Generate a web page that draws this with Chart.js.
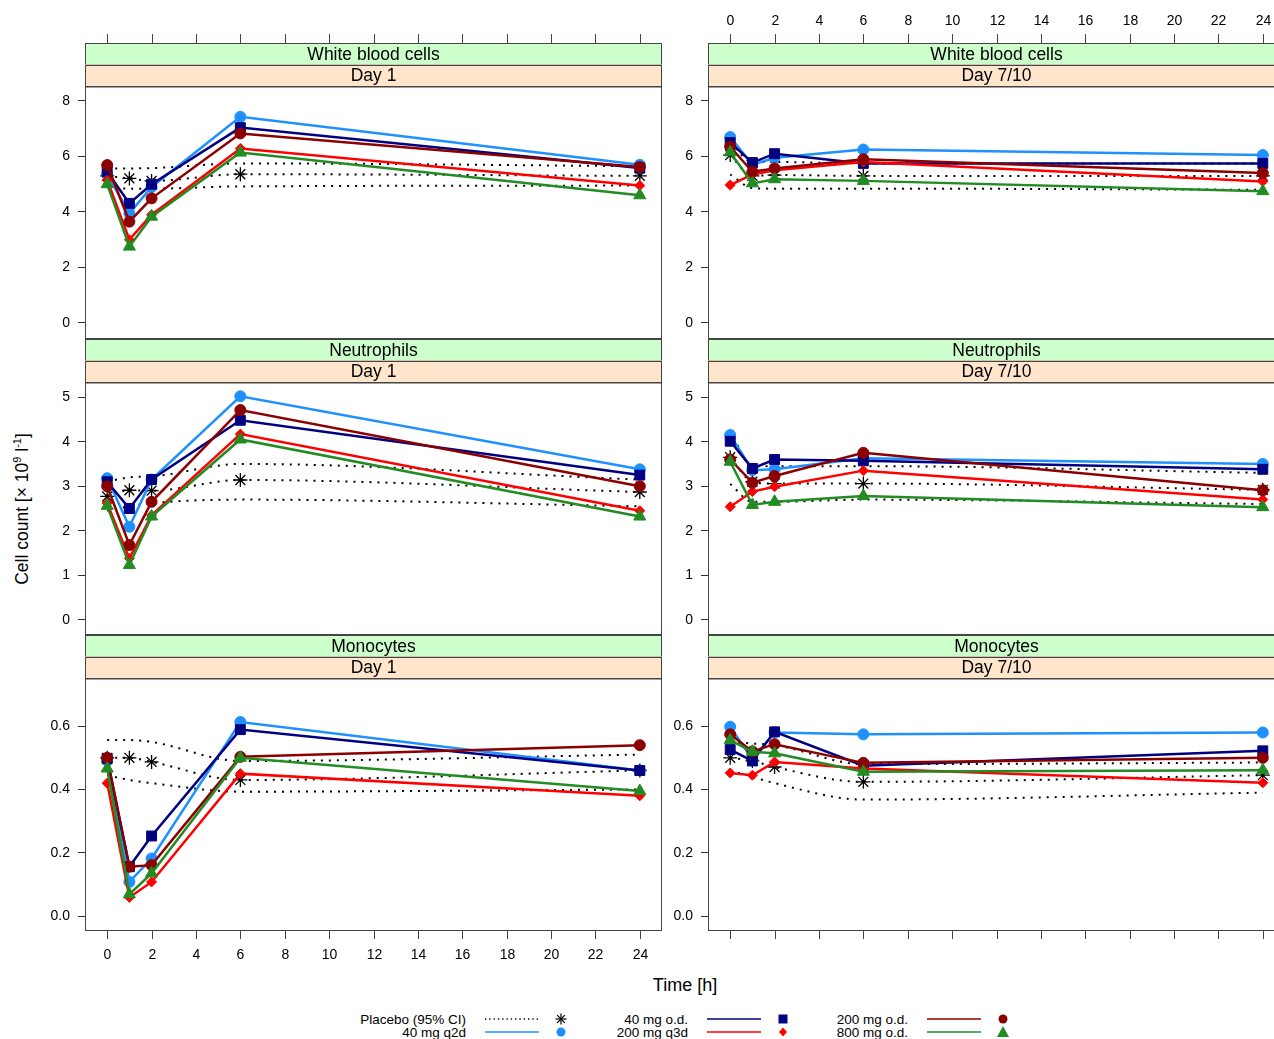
<!DOCTYPE html>
<html>
<head>
<meta charset="utf-8">
<script src="https://cdn.jsdelivr.net/npm/chart.js"></script>
<style>
  body { margin: 0; background: #fff; }
  #wrap { position: relative; width: 1274px; height: 1039px; overflow: hidden; font-family: "Liberation Sans", Arial, sans-serif; }
  #wrap canvas { position: absolute; }
  #ytitle { position: absolute; left: 22px; top: 509px; transform: translate(-50%, -50%) rotate(-90deg); font-size: 17.5px; white-space: nowrap; }
  #ytitle sup { font-size: 11px; }
  #xtitle { position: absolute; left: 685px; top: 985px; transform: translate(-50%, -50%); font-size: 18px; }
  #legend { position: absolute; left: 0; top: 1005px; }
</style>
</head>
<body>
<div id="wrap">
  <div id="ytitle">Cell count [× 10<sup>9</sup> l<sup>-1</sup>]</div>
  <div id="xtitle">Time [h]</div>
  <svg id="legend" width="1274" height="34"></svg>
</div>

<script>
// time points (h) and axis ticks
const times = [0, 1, 2, 6, 24];
const xTicks = [0, 2, 4, 6, 8, 10, 12, 14, 16, 18, 20, 22, 24];
const wbcTicks = [0, 2, 4, 6, 8];
const neutTicks = [0, 1, 2, 3, 4, 5];
const monoTicks = [0, 0.2, 0.4, 0.6];

const cellTypes = ['White blood cells', 'Neutrophils', 'Monocytes'];
const days = ['Day 1', 'Day 7/10'];
const groups = ['Placebo (95% CI)', '40 mg q2d', '40 mg o.d.', '200 mg q3d', '200 mg o.d.', '800 mg o.d.'];

// White blood cells, day 1
const wbcD1Mean  = [5.30, 5.21, 5.12, 5.36, 5.30];
const wbcD1Lower = [4.88, 4.84, 4.84, 4.92, 4.95];
const wbcD1Upper = [5.57, 5.57, 5.58, 5.75, 5.65];
const wbcD1Q2d40  = [5.35, 3.95, 4.90, 7.43, 5.70];
const wbcD1Od40   = [5.45, 4.31, 5.00, 7.04, 5.58];
const wbcD1Q3d200 = [5.15, 3.00, 3.90, 6.29, 4.95];
const wbcD1Od200  = [5.69, 3.65, 4.49, 6.83, 5.62];
const wbcD1Od800  = [5.00, 2.75, 3.83, 6.14, 4.60];

// White blood cells, day 7/10
const wbcD7Mean  = [6.05, 5.30, 5.33, 5.30, 5.30];
const wbcD7Lower = [5.35, 4.86, 4.84, 4.84, 4.80];
const wbcD7Upper = [6.50, 5.80, 5.80, 5.75, 5.75];
const wbcD7Q2d40  = [6.70, 5.70, 5.95, 6.25, 6.05];
const wbcD7Od40   = [6.50, 5.78, 6.10, 5.75, 5.75];
const wbcD7Q3d200 = [4.97, 5.35, 5.50, 5.80, 5.10];
const wbcD7Od200  = [6.35, 5.45, 5.57, 5.90, 5.40];
const wbcD7Od800  = [6.15, 5.03, 5.18, 5.12, 4.75];

// Neutrophils, day 1
const neutD1Mean  = [2.77, 2.91, 2.90, 3.14, 2.87];
const neutD1Lower = [2.45, 2.55, 2.62, 2.70, 2.55];
const neutD1Upper = [3.10, 3.20, 3.22, 3.50, 3.15];
const neutD1Q2d40  = [3.18, 2.09, 3.15, 5.02, 3.38];
const neutD1Od40   = [3.10, 2.50, 3.15, 4.48, 3.25];
const neutD1Q3d200 = [2.62, 1.38, 2.35, 4.17, 2.45];
const neutD1Od200  = [3.00, 1.68, 2.65, 4.71, 3.00];
const neutD1Od800  = [2.56, 1.23, 2.32, 4.05, 2.32];

// Neutrophils, day 7/10
const neutD7Mean  = [3.65, 3.10, 3.06, 3.06, 2.92];
const neutD7Lower = [3.05, 2.65, 2.65, 2.70, 2.60];
const neutD7Upper = [4.25, 3.45, 3.45, 3.45, 3.30];
const neutD7Q2d40  = [4.15, 3.36, 3.38, 3.63, 3.50];
const neutD7Od40   = [4.01, 3.40, 3.60, 3.57, 3.38];
const neutD7Q3d200 = [2.54, 2.88, 2.99, 3.35, 2.70];
const neutD7Od200  = [3.60, 3.08, 3.23, 3.75, 2.91];
const neutD7Od800  = [3.55, 2.58, 2.65, 2.78, 2.53];

// Monocytes, day 1
const monoD1Mean  = [0.500, 0.500, 0.487, 0.430, 0.460];
const monoD1Lower = [0.445, 0.430, 0.420, 0.393, 0.400];
const monoD1Upper = [0.556, 0.556, 0.550, 0.490, 0.510];
const monoD1Q2d40  = [0.490, 0.108, 0.182, 0.613, 0.460];
const monoD1Od40   = [0.498, 0.156, 0.253, 0.589, 0.460];
const monoD1Q3d200 = [0.420, 0.059, 0.108, 0.450, 0.380];
const monoD1Od200  = [0.500, 0.156, 0.161, 0.503, 0.540];
const monoD1Od800  = [0.466, 0.069, 0.135, 0.500, 0.395];

// Monocytes, day 7/10
const monoD7Mean  = [0.500, 0.490, 0.471, 0.424, 0.445];
const monoD7Lower = [0.460, 0.440, 0.420, 0.368, 0.390];
const monoD7Upper = [0.550, 0.545, 0.540, 0.480, 0.485];
const monoD7Q2d40  = [0.598, 0.495, 0.580, 0.574, 0.580];
const monoD7Od40   = [0.526, 0.490, 0.582, 0.475, 0.522];
const monoD7Q3d200 = [0.452, 0.445, 0.487, 0.466, 0.421];
const monoD7Od200  = [0.574, 0.520, 0.543, 0.484, 0.500];
const monoD7Od800  = [0.556, 0.519, 0.514, 0.456, 0.461];

// look of each group
const styles = [
  { color: '#000000', point: 'star',     r: 7 },
  { color: '#1E90FF', point: 'circle',   r: 5.5 },
  { color: '#000080', point: 'rect',     r: 7 },
  { color: '#FF0000', point: 'rectRot',  r: 5 },
  { color: '#8B0000', point: 'circle',   r: 5.5 },
  { color: '#228B22', point: 'triangle', r: 7 }
];
const drawOrder = [7, 5, 4, 3, 2, 1];

const FONT = '"Liberation Sans", Arial, sans-serif';
Chart.defaults.font.family = FONT;

// panel layout
const colLeft = [85, 708];
const rowPlotTop = [86, 382, 678];
const plotW = 577, plotH = 253;

const panels = [
  { row: 0, col: 0, ticks: wbcTicks, y: [-0.58, 8.54], ci: [wbcD1Lower, wbcD1Upper],
    series: [wbcD1Mean, wbcD1Q2d40, wbcD1Od40, wbcD1Q3d200, wbcD1Od200, wbcD1Od800] },
  { row: 0, col: 1, ticks: wbcTicks, y: [-0.58, 8.54], ci: [wbcD7Lower, wbcD7Upper],
    series: [wbcD7Mean, wbcD7Q2d40, wbcD7Od40, wbcD7Q3d200, wbcD7Od200, wbcD7Od800] },
  { row: 1, col: 0, ticks: neutTicks, y: [-0.34, 5.34], ci: [neutD1Lower, neutD1Upper],
    series: [neutD1Mean, neutD1Q2d40, neutD1Od40, neutD1Q3d200, neutD1Od200, neutD1Od800] },
  { row: 1, col: 1, ticks: neutTicks, y: [-0.34, 5.34], ci: [neutD7Lower, neutD7Upper],
    series: [neutD7Mean, neutD7Q2d40, neutD7Od40, neutD7Q3d200, neutD7Od200, neutD7Od800] },
  { row: 2, col: 0, ticks: monoTicks, y: [-0.047, 0.752], ci: [monoD1Lower, monoD1Upper], dec: 1,
    series: [monoD1Mean, monoD1Q2d40, monoD1Od40, monoD1Q3d200, monoD1Od200, monoD1Od800] },
  { row: 2, col: 1, ticks: monoTicks, y: [-0.047, 0.752], ci: [monoD7Lower, monoD7Upper], dec: 1,
    series: [monoD7Mean, monoD7Q2d40, monoD7Od40, monoD7Q3d200, monoD7Od200, monoD7Od800] }
];

// strips, frame and the x ticks outside the strips
const latticePlugin = {
  id: 'lattice',
  afterDraw(chart, args, o) {
    const ctx = chart.ctx, a = chart.chartArea, x = chart.scales.x;
    const sh = 21.5;
    ctx.save();
    ctx.lineWidth = 1;
    ctx.strokeStyle = '#444';
    [[o.strip1, '#ccffcc', a.top - 2 * sh], [o.strip2, '#ffe5cc', a.top - sh]].forEach(function (s) {
      ctx.fillStyle = s[1];
      ctx.fillRect(a.left, s[2], a.right - a.left, sh);
      ctx.strokeRect(a.left + 0.5, Math.round(s[2]) + 0.5, a.right - a.left - 1, sh);
      ctx.fillStyle = '#000';
      ctx.font = '17.5px ' + FONT;
      ctx.textAlign = 'center';
      ctx.textBaseline = 'middle';
      ctx.fillText(s[0], (a.left + a.right) / 2, s[2] + sh / 2 + 1);
    });
    ctx.strokeRect(a.left + 0.5, a.top + 0.5, a.right - a.left - 1, a.bottom - a.top - 1);

    ctx.font = '14px ' + FONT;
    ctx.textAlign = 'center';
    ctx.textBaseline = 'middle';
    ctx.fillStyle = '#000';
    xTicks.forEach(function (t) {
      const px = Math.round(x.getPixelForValue(t)) + 0.5;
      if (o.top) {
        const y0 = a.top - 2 * sh;
        ctx.beginPath(); ctx.moveTo(px, y0); ctx.lineTo(px, y0 - 9); ctx.stroke();
        if (o.topLabels) ctx.fillText(String(t), px, y0 - 22);
      }
      if (o.bottom) {
        ctx.beginPath(); ctx.moveTo(px, a.bottom); ctx.lineTo(px, a.bottom + 8); ctx.stroke();
        if (o.bottomLabels) ctx.fillText(String(t), px, a.bottom + 24);
      }
    });
    ctx.restore();
  }
};

const wrap = document.getElementById('wrap');

panels.forEach(function (p) {
  const cv = document.createElement('canvas');
  const left = colLeft[p.col] - 60, top = rowPlotTop[p.row] - 88;
  cv.width = 60 + plotW;
  cv.height = 88 + plotH + 45;
  cv.style.left = left + 'px';
  cv.style.top = top + 'px';
  wrap.appendChild(cv);

  const datasets = [];
  p.ci.forEach(function (arr) {
    datasets.push({
      data: arr.map(function (v, i) { return { x: times[i], y: v }; }),
      borderColor: '#000', borderWidth: 2, borderDash: [2, 6],
      cubicInterpolationMode: 'monotone', pointRadius: 0, fill: false, order: 8
    });
  });
  p.series.forEach(function (arr, g) {
    const s = styles[g];
    datasets.push({
      label: groups[g],
      data: arr.map(function (v, i) { return { x: times[i], y: v }; }),
      borderColor: s.color, backgroundColor: s.color,
      borderWidth: g === 0 ? 2 : 2.5,
      borderDash: g === 0 ? [2, 6] : [],
      cubicInterpolationMode: g === 0 ? 'monotone' : 'default',
      tension: 0,
      pointStyle: s.point, pointRadius: s.r,
      pointBackgroundColor: s.color, pointBorderColor: s.color,
      pointBorderWidth: g === 0 ? 1.3 : 1,
      fill: false, order: drawOrder[g]
    });
  });

  new Chart(cv, {
    type: 'line',
    data: { datasets: datasets },
    options: {
      responsive: false, animation: false, events: [],
      layout: { autoPadding: false, padding: { top: 88, bottom: 45, left: 0, right: 0 } },
      plugins: {
        legend: { display: false },
        tooltip: { enabled: false },
        lattice: {
          strip1: cellTypes[p.row], strip2: days[p.col],
          top: p.row === 0, topLabels: p.row === 0 && p.col === 1,
          bottom: p.row === 2, bottomLabels: p.row === 2 && p.col === 0
        }
      },
      scales: {
        x: { type: 'linear', min: -1, max: 25, display: false },
        y: {
          type: 'linear', position: 'left', min: p.y[0], max: p.y[1],
          afterFit: function (s) { s.width = 60; },
          afterBuildTicks: function (s) { s.ticks = p.ticks.map(function (v) { return { value: v }; }); },
          grid: { drawOnChartArea: false, drawTicks: true, tickLength: 7, color: '#333', lineWidth: 1 },
          border: { display: false },
          ticks: {
            padding: 8, color: '#000', font: { size: 14 },
            callback: function (v) { return p.dec ? Number(v).toFixed(p.dec) : String(v); }
          }
        }
      }
    },
    plugins: [latticePlugin]
  });
});

// legend
(function () {
  const svg = document.getElementById('legend');
  const ns = 'http://www.w3.org/2000/svg';
  const colText = [466, 688, 908];
  const rowY = [14, 27];
  const place = [[0, 0], [0, 1], [1, 0], [1, 1], [2, 0], [2, 1]];
  function el(tag, attrs) {
    const e = document.createElementNS(ns, tag);
    for (const k in attrs) e.setAttribute(k, attrs[k]);
    svg.appendChild(e);
    return e;
  }
  groups.forEach(function (name, g) {
    const tx = colText[place[g][0]], y = rowY[place[g][1]], c = styles[g].color;
    const t = el('text', { x: tx, y: y + 4.5, 'text-anchor': 'end', 'font-size': '13.5', 'font-family': FONT });
    t.textContent = name;
    el('line', { x1: tx + 19, y1: y, x2: tx + 73, y2: y, stroke: c, 'stroke-width': g === 0 ? 1.3 : 1.5,
      'stroke-dasharray': g === 0 ? '1.3 3' : 'none' });
    const sx = tx + 95;
    if (styles[g].point === 'star') {
      for (let k = 0; k < 4; k++) {
        const ang = k * Math.PI / 4, r = 5.5;
        el('line', { x1: sx - r * Math.cos(ang), y1: y - r * Math.sin(ang), x2: sx + r * Math.cos(ang), y2: y + r * Math.sin(ang), stroke: c, 'stroke-width': 1.2 });
      }
    } else if (styles[g].point === 'circle') {
      el('circle', { cx: sx, cy: y, r: 4.5, fill: c });
    } else if (styles[g].point === 'rect') {
      el('rect', { x: sx - 4.5, y: y - 4.5, width: 9, height: 9, fill: c });
    } else if (styles[g].point === 'rectRot') {
      el('polygon', { points: [sx, y - 4.5, sx + 4, y, sx, y + 4.5, sx - 4, y].join(' '), fill: c });
    } else {
      el('polygon', { points: [sx, y - 6, sx + 6, y + 5, sx - 6, y + 5].join(' '), fill: c });
    }
  });
})();
</script>
</body>
</html>
